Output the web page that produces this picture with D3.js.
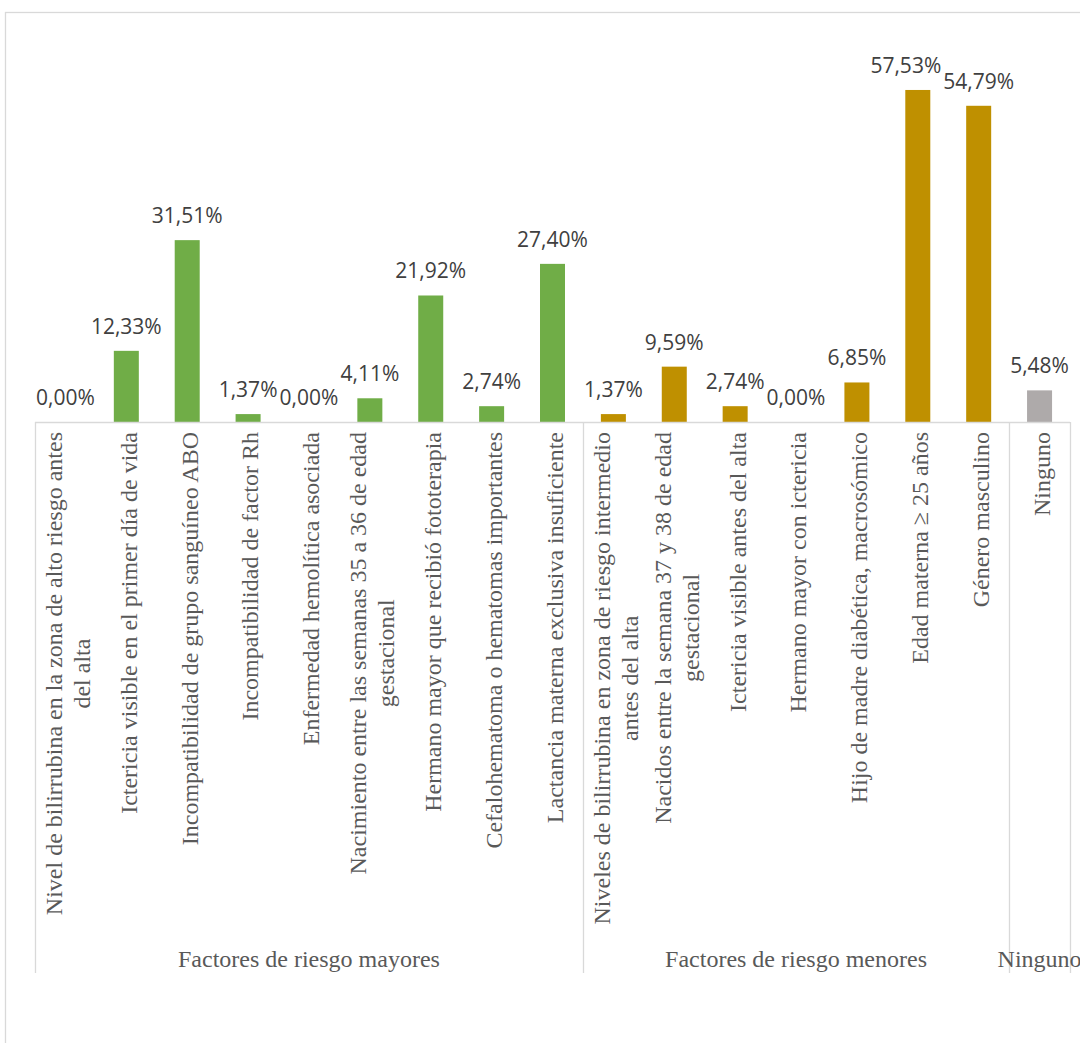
<!DOCTYPE html>
<html>
<head>
<meta charset="utf-8">
<script src="https://cdn.jsdelivr.net/npm/d3@7"></script>
<style>
  body { margin: 0; background: #fff; }
  .value-label { font-family: "Open Sans", sans-serif; font-size: 21px; fill: #404040; }
  .cat-label { font-family: "Liberation Serif", "Times New Roman", serif; font-size: 24px; fill: #595959; }
  .group-label { font-family: "Liberation Serif", "Times New Roman", serif; font-size: 24px; fill: #595959; }
</style>
</head>
<body>
<div id="chart"></div>
<script>
// groups of the multi-level axis
var groupNames = ["Factores de riesgo mayores", "Factores de riesgo menores", "Ninguno"];
var groupColors = ["#70AD47", "#BF9000", "#AEAAAA"];

var majorFactors = [
  "Nivel de bilirrubina en la zona de alto riesgo antes del alta",
  "Ictericia visible en el primer día de vida",
  "Incompatibilidad de grupo sanguíneo ABO",
  "Incompatibilidad de factor Rh",
  "Enfermedad hemolítica asociada",
  "Nacimiento entre las semanas 35 a 36 de edad gestacional",
  "Hermano mayor que recibió fototerapia",
  "Cefalohematoma o hematomas importantes",
  "Lactancia materna exclusiva insuficiente"
];
var majorValues = [0, 12.33, 31.51, 1.37, 0, 4.11, 21.92, 2.74, 27.40];

var minorFactors = [
  "Niveles de bilirrubina en zona de riesgo intermedio antes del alta",
  "Nacidos entre la semana 37 y 38 de edad gestacional",
  "Ictericia visible antes del alta",
  "Hermano mayor con ictericia",
  "Hijo de madre diabética, macrosómico",
  "Edad materna ≥ 25 años",
  "Género masculino"
];
var minorValues = [1.37, 9.59, 2.74, 0, 6.85, 57.53, 54.79];

var noneFactors = ["Ninguno"];
var noneValues = [5.48];

var yMax = 70;

// flat rows for drawing
var rows = [];
[[majorFactors, majorValues], [minorFactors, minorValues], [noneFactors, noneValues]].forEach(function(g, gi) {
  g[0].forEach(function(name, i) {
    rows.push({ id: gi + "-" + i, name: name, value: g[1][i], group: gi });
  });
});

var width = 1080, height = 1043;
var plotLeft = 35, plotRight = 1070, plotTop = 18, baseY = 422;

var svg = d3.select("#chart").append("svg")
  .attr("width", width)
  .attr("height", height);

// chart frame (runs off the right/bottom of the picture)
svg.append("rect")
  .attr("x", 5.5).attr("y", 12.5)
  .attr("width", 1200).attr("height", 1200)
  .attr("fill", "none")
  .attr("stroke", "#d9d9d9")
  .attr("stroke-width", 1.3);

var step = (plotRight - plotLeft) / rows.length;
var pad = 1 - 25 / step;
var x = d3.scaleBand()
  .domain(rows.map(function(d) { return d.id; }))
  .range([plotLeft, plotRight])
  .paddingInner(pad)
  .paddingOuter(pad / 2);

var y = d3.scaleLinear().domain([0, yMax]).range([baseY, plotTop]);

// bars
svg.selectAll(".bar")
  .data(rows)
  .enter().append("rect")
  .attr("class", "bar")
  .attr("x", function(d) { return x(d.id); })
  .attr("y", function(d) { return y(d.value); })
  .attr("width", x.bandwidth())
  .attr("height", function(d) { return baseY - y(d.value); })
  .attr("fill", function(d) { return groupColors[d.group]; });

// value labels
var labels = svg.selectAll(".value-label")
  .data(rows)
  .enter().append("text")
  .attr("class", "value-label")
  .attr("x", function(d) { return x(d.id) + x.bandwidth() / 2; })
  .attr("y", function(d) { return y(d.value) - 17; })
  .attr("text-anchor", "middle")
  .text(function(d) { return d.value.toFixed(2).replace(".", ",") + "%"; });

// nudge a label left when it runs into its right-hand neighbour
var nodes = labels.nodes();
for (var i = nodes.length - 2; i >= 0; i--) {
  var a = nodes[i].getBBox(), b = nodes[i + 1].getBBox();
  var vOverlap = a.y < b.y + b.height - 6 && b.y < a.y + a.height - 6;
  var over = a.x + a.width + 2 - b.x;
  if (vOverlap && over > 3) {
    var t = d3.select(nodes[i]);
    t.attr("x", +t.attr("x") - over);
  }
}

// axis line
svg.append("line")
  .attr("x1", plotLeft).attr("x2", plotRight)
  .attr("y1", baseY + 0.5).attr("y2", baseY + 0.5)
  .attr("stroke", "#d9d9d9").attr("stroke-width", 1.3);

// group separators
var bounds = [0];
rows.forEach(function(d, i) {
  if (i > 0 && d.group !== rows[i - 1].group) bounds.push(i);
});
bounds.push(rows.length);
svg.selectAll(".sep")
  .data(bounds)
  .enter().append("line")
  .attr("x1", function(i) { return Math.round(plotLeft + i * step) + 0.5; })
  .attr("x2", function(i) { return Math.round(plotLeft + i * step) + 0.5; })
  .attr("y1", baseY).attr("y2", 973)
  .attr("stroke", "#d9d9d9").attr("stroke-width", 1.3);

// wrap category names by measured width
var maxLen = 500;
var probe = svg.append("text").attr("class", "cat-label");
function textWidth(s) { probe.text(s); return probe.node().getComputedTextLength(); }
function wrap(s) {
  var words = s.split(" "), lines = [], cur = "";
  words.forEach(function(w) {
    var t = cur ? cur + " " + w : w;
    if (cur && textWidth(t) > maxLen) { lines.push(cur); cur = w; }
    else cur = t;
  });
  lines.push(cur);
  return lines;
}

var lineH = 28;
rows.forEach(function(d) {
  var lines = wrap(d.name);
  var longest = d3.max(lines, textWidth);
  var cx = x(d.id) + x.bandwidth() / 2 + 2;
  var cy = baseY + 10 + longest / 2;
  var t = svg.append("text")
    .attr("class", "cat-label")
    .attr("text-anchor", "middle")
    .attr("transform", "translate(" + cx + "," + cy + ") rotate(-90)");
  lines.forEach(function(l, i) {
    t.append("tspan")
      .attr("x", 0)
      .attr("y", (i - (lines.length - 1) / 2) * lineH)
      .attr("dy", "0.35em")
      .text(l);
  });
});
probe.remove();

// group labels
groupNames.forEach(function(g, gi) {
  var x0 = plotLeft + bounds[gi] * step, x1 = plotLeft + bounds[gi + 1] * step;
  svg.append("text")
    .attr("class", "group-label")
    .attr("x", (x0 + x1) / 2)
    .attr("y", 967)
    .attr("text-anchor", "middle")
    .text(g);
});
</script>
</body>
</html>
